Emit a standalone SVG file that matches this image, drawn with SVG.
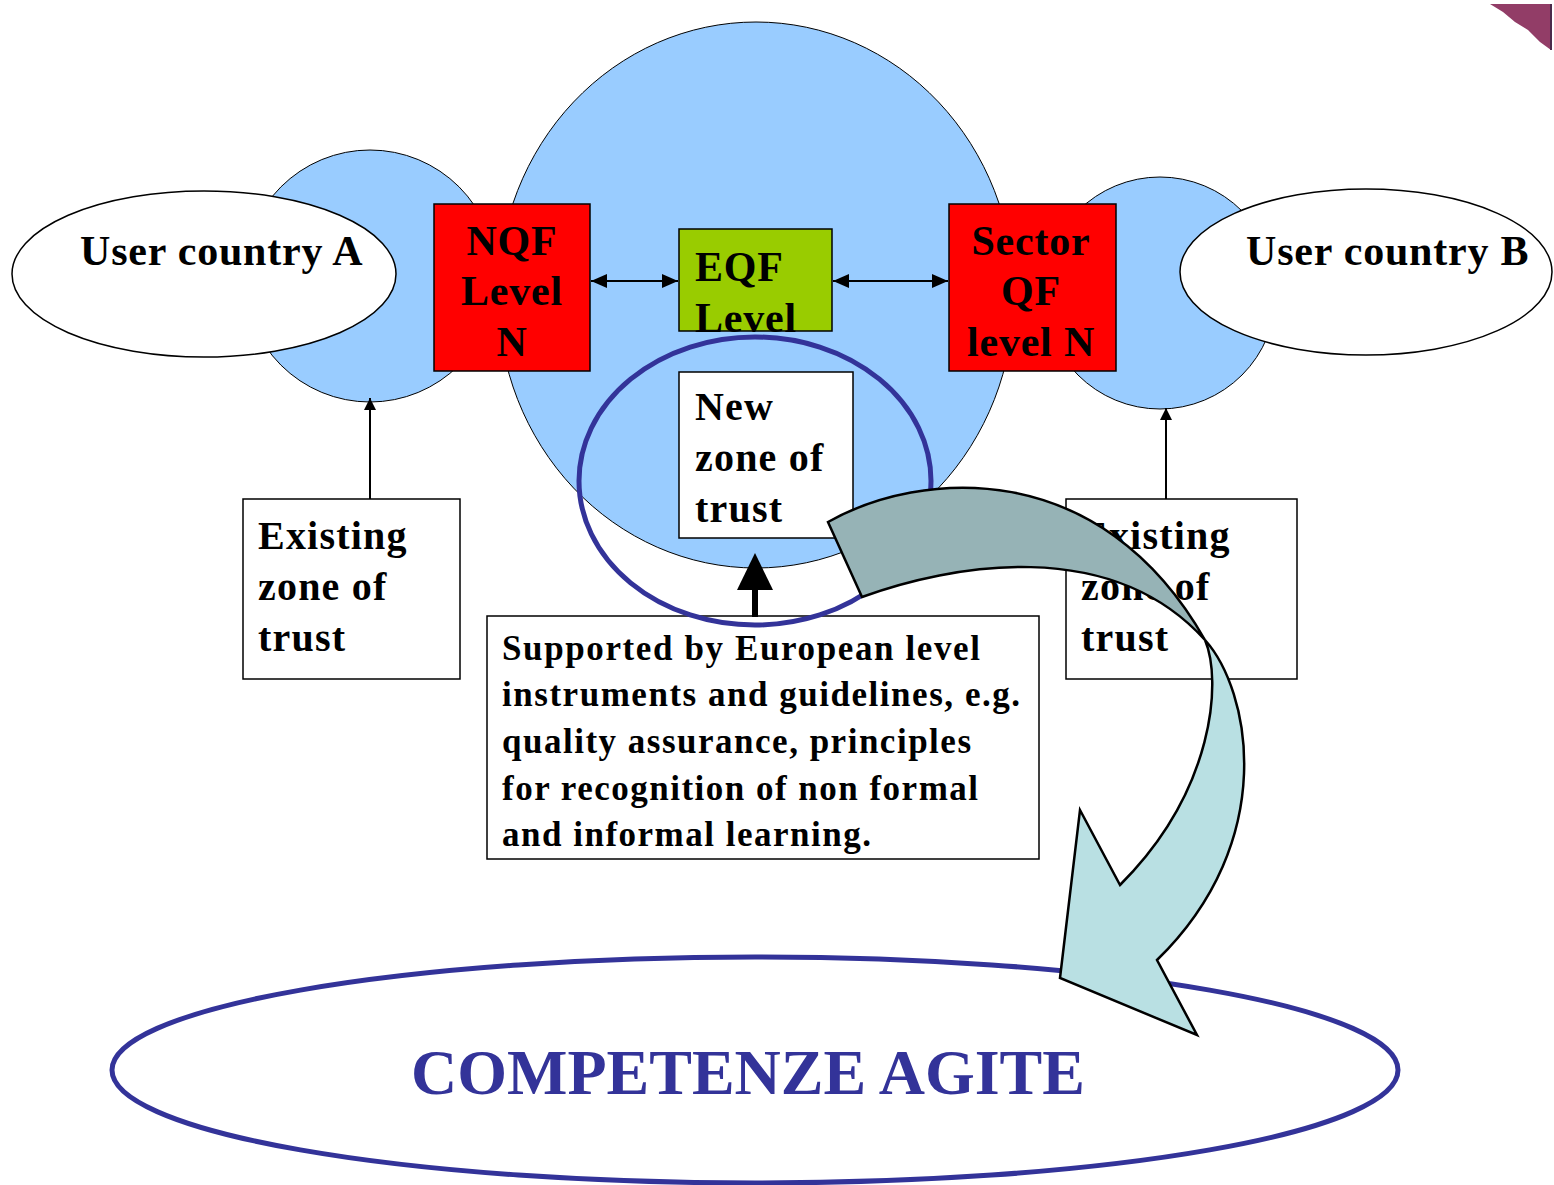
<svg xmlns="http://www.w3.org/2000/svg" width="1554" height="1185" viewBox="0 0 1554 1185">
<style>
.zone{fill:#99CCFF;stroke:#000;stroke-width:1}
.user{fill:#FFFFFF;stroke:#000;stroke-width:1.5}
.red{fill:#FF0000;stroke:#000;stroke-width:1.5}
.green{fill:#99CC00;stroke:#000;stroke-width:1.5}
.box{fill:#FFFFFF;stroke:#000;stroke-width:1.5}
.t{font-family:"Liberation Serif","Times New Roman",serif;font-weight:bold;fill:#000}
.t42{font-size:42px;letter-spacing:0.8px}
.t40{font-size:40px;letter-spacing:1.2px}
.t33{font-size:35px}
.ring{fill:none;stroke:#333399;stroke-width:5}
.conn{stroke:#000;stroke-width:2;fill:none}
</style>
<defs>
<marker id="ah" viewBox="0 0 16 14" refX="16" refY="7" markerWidth="16" markerHeight="14" markerUnits="userSpaceOnUse" orient="auto-start-reverse">
<path d="M0,0 L16,7 L0,14 z" fill="#000"/>
</marker>
<marker id="ahs" viewBox="0 0 12 16" refX="12" refY="8" markerWidth="12" markerHeight="16" markerUnits="userSpaceOnUse" orient="auto">
<path d="M0,2 L12,8 L0,14 z" fill="#000"/>
</marker>
</defs>
<rect width="1554" height="1185" fill="#FFFFFF"/>
<g id="corner">
<polygon points="1490,4 1551,4 1551,50 1540,42 1528,30 1515,22 1503,12" fill="#923D67"/>
<line x1="1551" y1="4" x2="1551" y2="50" stroke="#4B2B4B" stroke-width="2"/>
</g>
<g id="zone-eqf"><ellipse class="zone" cx="756" cy="295" rx="258" ry="273"/></g>
<g id="zone-a"><circle class="zone" cx="370" cy="276" r="126"/></g>
<g id="zone-b"><circle class="zone" cx="1160" cy="293" r="116"/></g>
<g id="user-a"><ellipse class="user" cx="204" cy="274" rx="192" ry="83"/>
<text class="t t42" x="80" y="265">User country A</text></g>
<g id="user-b"><ellipse class="user" cx="1366" cy="272" rx="186" ry="83"/>
<text class="t t42" x="1246" y="265">User country B</text></g>
<g id="nqf"><rect class="red" x="434" y="204" width="156" height="167"/>
<text class="t t42" text-anchor="middle"><tspan x="512" y="255">NQF</tspan><tspan x="512" y="305">Level</tspan><tspan x="512" y="356">N</tspan></text></g>
<g id="eqf"><rect class="green" x="679" y="229" width="153" height="102"/>
<text class="t t42"><tspan x="695" y="281">EQF</tspan><tspan x="695" y="332">Level</tspan></text></g>
<g id="sector"><rect class="red" x="949" y="204" width="167" height="167"/>
<text class="t t42" text-anchor="middle"><tspan x="1031" y="255">Sector</tspan><tspan x="1031" y="305">QF</tspan><tspan x="1031" y="356">level N</tspan></text></g>
<g id="new-zone"><rect class="box" x="679" y="372" width="174" height="166"/>
<text class="t t40"><tspan x="695" y="420">New</tspan><tspan x="695" y="471">zone of</tspan><tspan x="695" y="522">trust</tspan></text></g>
<g id="existing-a"><rect class="box" x="243" y="499" width="217" height="180"/>
<text class="t t40"><tspan x="258" y="549">Existing</tspan><tspan x="258" y="600">zone of</tspan><tspan x="258" y="651">trust</tspan></text></g>
<g id="existing-b"><rect class="box" x="1066" y="499" width="231" height="180"/>
<text class="t t40"><tspan x="1081" y="549">Existing</tspan><tspan x="1081" y="600">zone of</tspan><tspan x="1081" y="651">trust</tspan></text></g>
<g id="supported"><rect class="box" x="487" y="616" width="552" height="243"/>
<text class="t t33" x="502" y="660" textLength="478" lengthAdjust="spacing">Supported by European level</text>
<text class="t t33" x="502" y="706" textLength="518" lengthAdjust="spacing">instruments and guidelines, e.g.</text>
<text class="t t33" x="502" y="753" textLength="469" lengthAdjust="spacing">quality assurance, principles</text>
<text class="t t33" x="502" y="800" textLength="476" lengthAdjust="spacing">for recognition of non formal</text>
<text class="t t33" x="502" y="846" textLength="369" lengthAdjust="spacing">and informal learning.</text></g>
<g id="connectors">
<line class="conn" x1="591" y1="281" x2="678" y2="281" marker-start="url(#ah)" marker-end="url(#ah)"/>
<line class="conn" x1="833" y1="281" x2="948" y2="281" marker-start="url(#ah)" marker-end="url(#ah)"/>
<line class="conn" x1="370" y1="499" x2="370" y2="398" marker-end="url(#ahs)"/>
<line class="conn" x1="1166" y1="499" x2="1166" y2="408" marker-end="url(#ahs)"/>
<line x1="755" y1="617" x2="755" y2="585" stroke="#000" stroke-width="6"/>
<polygon points="755,553 737,590 773,590" fill="#000"/>
</g>
<g id="new-zone-ring"><ellipse class="ring" cx="755" cy="481" rx="176" ry="144"/></g>
<g id="competenze"><ellipse class="ring" cx="755" cy="1070" rx="643" ry="113"/>
<text x="748" y="1094" text-anchor="middle" font-family="'Liberation Serif','Times New Roman',serif" font-weight="bold" font-size="64" fill="#333399">COMPETENZE AGITE</text></g>
<g id="curved-arrow" stroke="#000" stroke-width="2.5" stroke-linejoin="miter">
<path d="M828,522 C920,470 1100,455 1205,640 C1110,535 950,565 862,597 Z" fill="#96B3B6"/>
<path d="M1205,640 C1222,680 1215,790 1120,885 L1080,810 L1060,978 L1197,1035 L1157,960 C1280,840 1250,690 1205,640 Z" fill="#B9E0E3"/>
</g>
</svg>
